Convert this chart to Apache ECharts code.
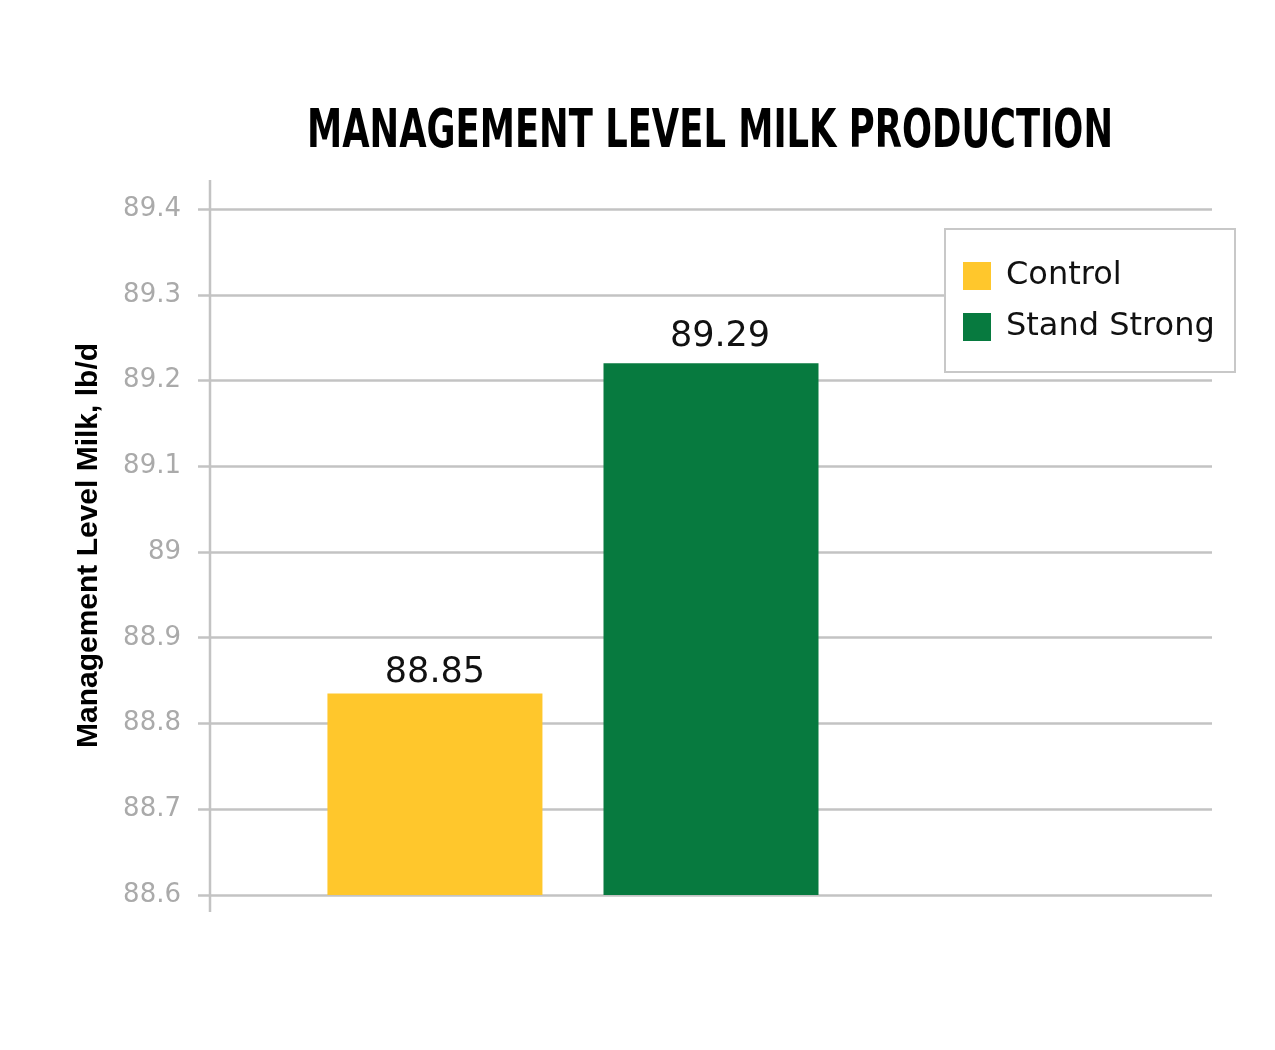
<!DOCTYPE html>
<html>
<head>
<meta charset="utf-8">
<script src="https://cdn.jsdelivr.net/npm/echarts@6/dist/echarts.min.js"></script>
<style>
html,body{margin:0;padding:0;background:#fff;}
#chart{width:1275px;height:1050px;}
</style>
</head>
<body>
<div id="chart"></div>
<script>
// ---- data ----
const seriesNames = ['Control', 'Stand Strong'];
const barValues = [88.835, 89.22];          // bar heights as drawn
const barLabels = ['88.85', '89.29'];       // value labels as printed
const barColors = ['#FFC72C', '#077A3F'];
const yTicks = [88.6, 88.7, 88.8, 88.9, 89, 89.1, 89.2, 89.3, 89.4];
const titleText = 'MANAGEMENT LEVEL MILK PRODUCTION';
const yAxisName = 'Management Level Milk, lb/d';

const chart = echarts.init(document.getElementById('chart'), null, {renderer: 'canvas'});

const gridColor = '#c3c3c3';
const labelFont = '"DejaVu Sans", Inter, sans-serif';
const titleFont = '"DejaVu Sans Condensed", "DejaVu Sans", sans-serif';
const titleSize = 54;

// condense the title horizontally to the width it has in the original
const mctx = document.createElement('canvas').getContext('2d');
mctx.font = 'bold ' + titleSize + 'px ' + titleFont;
const titleScaleX = 806 / mctx.measureText(titleText).width;

const labelDistances = [3, 9];
const labelOffsets = [[0, 0], [9, 0]];

const series = seriesNames.map((name, i) => ({
  name: name,
  type: 'bar',
  data: [barValues[i]],
  barWidth: 215,
  barGap: '28.4%',
  itemStyle: {color: barColors[i]},
  label: {
    show: true,
    position: 'top',
    distance: labelDistances[i],
    formatter: () => barLabels[i],
    color: '#111',
    fontFamily: labelFont,
    fontSize: 35,
    offset: labelOffsets[i]
  }
}));
// empty slot reserved in the category (as in the original layout)
series.push({name: '_empty', type: 'bar', data: [null], barWidth: 215, barGap: '28.4%'});

chart.setOption({
  animation: false,
  backgroundColor: '#fff',
  grid: {left: 210, right: 63, top: 209, bottom: 155, containLabel: false},
  legend: {
    data: seriesNames,
    orient: 'vertical',
    left: 945,
    top: 229,
    padding: [31, 10, 29, 18],
    itemWidth: 28,
    itemHeight: 28,
    itemGap: 19,
    icon: 'rect',
    borderColor: '#c8c8c8',
    borderWidth: 2,
    backgroundColor: '#fff',
    textStyle: {fontFamily: labelFont, fontSize: 32, color: '#111', padding: [0, 0, 0, 10], lineHeight: 28, width: 219}
  },
  xAxis: {
    type: 'category',
    data: [''],
    axisLine: {show: false},
    axisTick: {show: false},
    axisLabel: {show: false}
  },
  yAxis: {
    type: 'value',
    min: yTicks[0],
    max: yTicks[yTicks.length - 1],
    interval: 0.1,
    name: yAxisName,
    nameLocation: 'middle',
    nameGap: 106,
    nameRotate: 90,
    nameTextStyle: {
      fontFamily: '"Liberation Sans", Arial, sans-serif',
      fontWeight: 'bold',
      fontSize: 30,
      color: '#000',
      padding: [0, 0, 0, 13]
    },
    axisLine: {show: false},
    axisTick: {show: true, length: 12, inside: false, lineStyle: {color: gridColor, width: 2.5}},
    axisLabel: {
      margin: 29,
      color: '#aaaaaa',
      fontFamily: labelFont,
      fontSize: 26,
      formatter: v => String(+v.toFixed(1))
    },
    splitLine: {show: true, lineStyle: {color: gridColor, width: 2.5}}
  },
  graphic: [{
    type: 'line',
    shape: {x1: 210, y1: 180, x2: 210, y2: 912},
    style: {stroke: gridColor, lineWidth: 2.5},
    z: 1
  }, {
    type: 'text',
    x: 710,
    y: 133,
    scaleX: titleScaleX,
    style: {
      text: titleText,
      x: 0,
      y: 0,
      align: 'center',
      verticalAlign: 'middle',
      font: 'bold ' + titleSize + 'px ' + titleFont,
      fill: '#000'
    }
  }],
  series: series
});
</script>
</body>
</html>
